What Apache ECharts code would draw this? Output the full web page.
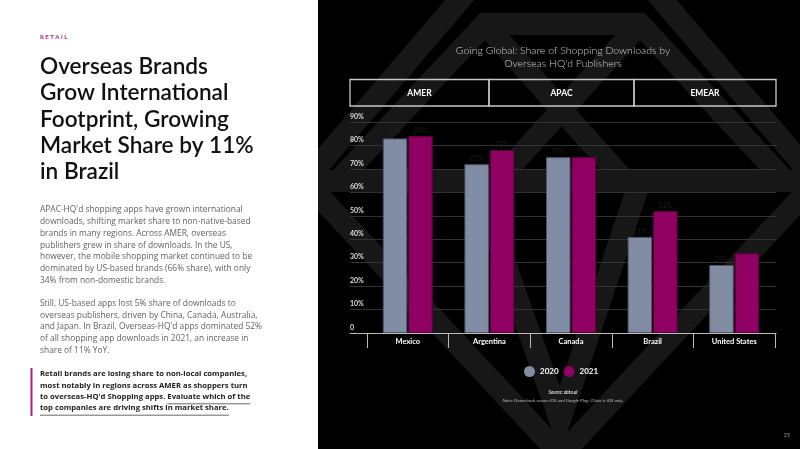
<!DOCTYPE html>
<html>
<head>
<meta charset="utf-8">
<script src="https://cdn.jsdelivr.net/npm/echarts@6/dist/echarts.min.js"></script>
<style>
  html, body { margin: 0; padding: 0; background: #000; }
  #main { width: 800px; height: 449px; }
</style>
</head>
<body>
<div id="main"></div>
<script>
// data
const categories = ['Mexico', 'Argentina', 'Canada', 'Brazil', 'United States']
const share2020 = [83, 72, 75, 41, 29]
const share2021 = [84, 78, 75, 52, 34]
const seriesNames = ['2020', '2021']
const regions = ['AMER', 'APAC', 'EMEAR']

const FONT = 'Lato, "Open Sans", sans-serif'
const BODY = '"Open Sans", Lato, sans-serif'
const GREY = '#808da5'
const PLUM = '#900063'
const WM = '#171717'

const chart = echarts.init(document.getElementById('main'))

// measure text so the underline sits under the words
const measureCtx = document.createElement('canvas').getContext('2d')
function textWidth (txt, font) {
  measureCtx.font = font
  return measureCtx.measureText(txt).width
}

// faint diamond watermark behind the chart
function band (points) {
  return {
    type: 'polyline',
    z: -20,
    silent: true,
    shape: { points: points },
    style: { stroke: WM, lineWidth: 22, fill: null, lineJoin: 'miter' }
  }
}
const watermark = [
  band([[470, -12], [305, 181], [561, 455], [817, 181], [652, -12]]),
  band([[318, 181], [800, 181]]),
  band([[338, 181], [485, 24], [640, 24], [785, 181]]),
  band([[485, 24], [625, 181]]),
  band([[640, 24], [497, 181]]),
  band([[476, 181], [560, 420], [640, 181]])
]

// region header boxes
const boxes = [[350, 489], [489, 634], [634, 776]]
const regionEls = []
boxes.forEach((b, i) => {
  regionEls.push({
    type: 'rect',
    shape: { x: b[0], y: 79.5, width: b[1] - b[0], height: 26.5 },
    style: { fill: null, stroke: '#c8c8c8', lineWidth: 1.3 }
  })
  regionEls.push({
    type: 'text',
    style: {
      text: regions[i], x: (b[0] + b[1]) / 2, y: 93,
      align: 'center', verticalAlign: 'middle',
      fontSize: 8.5, fontWeight: 'bold', fontFamily: FONT, fill: '#fff'
    }
  })
})

const calloutLines = [
  'Retail brands are losing share to non-local companies,',
  'most notably in regions across AMER as shoppers turn',
  "to overseas-HQ'd Shopping apps. Evaluate which of the",
  'top companies are driving shifts in market share.'
]
const calloutFont = 'bold 7.7px "Open Sans", Lato, sans-serif'
const ulStart = 40 + textWidth("to overseas-HQ'd Shopping apps. ", calloutFont)
const ulEnd3 = 40 + textWidth(calloutLines[2], calloutFont)
const ulEnd4 = 40 + textWidth(calloutLines[3], calloutFont)

const leftPanel = [
  { type: 'rect', z: -10, shape: { x: 0, y: 0, width: 318, height: 449 }, style: { fill: '#fff' } },
  {
    type: 'text',
    style: { text: 'R E T A I L', x: 40, y: 37, verticalAlign: 'middle', fontSize: 6, fontWeight: 'bold', fontFamily: FONT, fill: '#a02a86' }
  },
  {
    type: 'text',
    style: {
      text: 'Overseas Brands\nGrow International\nFootprint, Growing\nMarket Share by 11%\nin Brazil',
      x: 40, y: 53.5, verticalAlign: 'top', lineHeight: 26.3,
      fontSize: 22.6, fontWeight: 600, fontFamily: FONT, fill: '#111'
    }
  },
  {
    type: 'text',
    style: {
      text: "APAC-HQ'd shopping apps have grown international\n" +
        'downloads, shifting market share to non-native-based\n' +
        'brands in many regions. Across AMER, overseas\n' +
        'publishers grew in share of downloads. In the US,\n' +
        'however, the mobile shopping market continued to be\n' +
        'dominated by US-based brands (66% share), with only\n' +
        '34% from non-domestic brands.\n\n' +
        'Still, US-based apps lost 5% share of downloads to\n' +
        'overseas publishers, driven by China, Canada, Australia,\n' +
        "and Japan. In Brazil, Overseas-HQ'd apps dominated 52%\n" +
        'of all shopping app downloads in 2021, an increase in\n' +
        'share of 11% YoY.',
      x: 40, y: 204.2, verticalAlign: 'top', lineHeight: 11.7,
      fontSize: 8.4, fontFamily: BODY, fill: '#626262'
    }
  },
  { type: 'rect', shape: { x: 30.5, y: 368, width: 2, height: 48 }, style: { fill: '#a0237f' } },
  {
    type: 'text',
    style: {
      text: calloutLines.join('\n'),
      x: 40, y: 368.3, verticalAlign: 'top', lineHeight: 11.4,
      fontSize: 7.7, fontWeight: 'bold', fontFamily: BODY, fill: '#222'
    }
  },
  { type: 'line', shape: { x1: ulStart, y1: 403.8, x2: ulEnd3, y2: 403.8 }, style: { stroke: '#444', lineWidth: 0.8 } },
  { type: 'line', shape: { x1: 40, y1: 415.2, x2: ulEnd4, y2: 415.2 }, style: { stroke: '#444', lineWidth: 0.8 } }
]

const chartTexts = [
  {
    type: 'text',
    style: {
      text: 'Going Global: Share of Shopping Downloads by\nOverseas HQ\'d Publishers',
      x: 563, y: 43.5, align: 'center', verticalAlign: 'top', lineHeight: 13.5,
      fontSize: 10.5, fontWeight: 300, fontFamily: FONT, fill: '#cfcfcf'
    }
  },
  {
    type: 'text',
    style: {
      text: 'Source: data.ai', x: 563, y: 393, align: 'center', verticalAlign: 'middle',
      fontSize: 4.6, fontStyle: 'italic', fontWeight: 'bold', fontFamily: FONT, fill: '#ddd'
    }
  },
  {
    type: 'text',
    style: {
      text: 'Note: Downloads across iOS and Google Play; China is iOS only.', x: 563, y: 400.5,
      align: 'center', verticalAlign: 'middle',
      fontSize: 4.6, fontStyle: 'italic', fontFamily: FONT, fill: '#bbb'
    }
  },
  {
    type: 'text',
    style: { text: '25', x: 787, y: 435, align: 'center', verticalAlign: 'middle', fontSize: 5.5, fontFamily: FONT, fill: '#999' }
  }
]

const option = {
  backgroundColor: '#000',
  animation: false,
  textStyle: { fontFamily: FONT },
  graphic: { elements: [].concat(watermark, leftPanel, regionEls, chartTexts) },
  legend: {
    data: seriesNames,
    left: 519,
    top: 361,
    icon: 'circle',
    itemWidth: 11,
    itemHeight: 11,
    itemGap: 5,
    itemStyle: { borderWidth: 0 },
    textStyle: { color: '#fff', fontSize: 8, fontWeight: 'bold', fontFamily: FONT }
  },
  grid: [
    { left: 367, right: 25, top: 122, bottom: 116 },
    { left: 350, right: 24, top: 122, bottom: 116 }
  ],
  xAxis: [
    {
      type: 'category',
      gridIndex: 0,
      data: categories,
      axisLine: { show: false },
      axisTick: { show: true, length: 15, lineStyle: { color: '#bbb', width: 1 } },
      axisLabel: { color: '#fff', fontSize: 7.5, fontWeight: 'bold', margin: 5 }
    },
    {
      type: 'category',
      gridIndex: 1,
      data: [''],
      axisLine: { show: true, lineStyle: { color: '#bbb', width: 1.2 } },
      axisTick: { show: false },
      axisLabel: { show: false }
    }
  ],
  yAxis: [
    {
      type: 'value',
      gridIndex: 0,
      min: 0,
      max: 90,
      interval: 10,
      axisLabel: { show: false },
      axisLine: { show: false },
      axisTick: { show: false },
      splitLine: { show: false }
    },
    {
      type: 'value',
      gridIndex: 1,
      min: 0,
      max: 90,
      interval: 10,
      axisLine: { show: false },
      axisTick: { show: false },
      axisLabel: {
        inside: true,
        margin: 0,
        verticalAlign: 'bottom',
        padding: [0, 0, 2, 0],
        color: '#ddd',
        fontSize: 7,
        fontWeight: 'bold',
        formatter: v => (v === 0 ? '0' : v + '%')
      },
      splitLine: { lineStyle: { color: '#333', width: 1 } }
    }
  ],
  series: [
    {
      name: seriesNames[0],
      type: 'bar',
      xAxisIndex: 0,
      yAxisIndex: 0,
      data: share2020,
      barWidth: 24.5,
      barGap: '4%',
      itemStyle: { color: GREY, borderColor: '#4f5667', borderWidth: 1 },
      label: { show: true, position: 'top', distance: 2, color: '#1c1c1c', fontSize: 7, formatter: '{c}%' }
    },
    {
      name: seriesNames[1],
      type: 'bar',
      xAxisIndex: 0,
      yAxisIndex: 0,
      data: share2021,
      barWidth: 24.5,
      itemStyle: { color: PLUM, borderColor: '#5e0040', borderWidth: 1 },
      label: { show: true, position: 'top', distance: 2, color: '#1c1c1c', fontSize: 7, formatter: '{c}%' }
    }
  ]
}

chart.setOption(option)
</script>
</body>
</html>
